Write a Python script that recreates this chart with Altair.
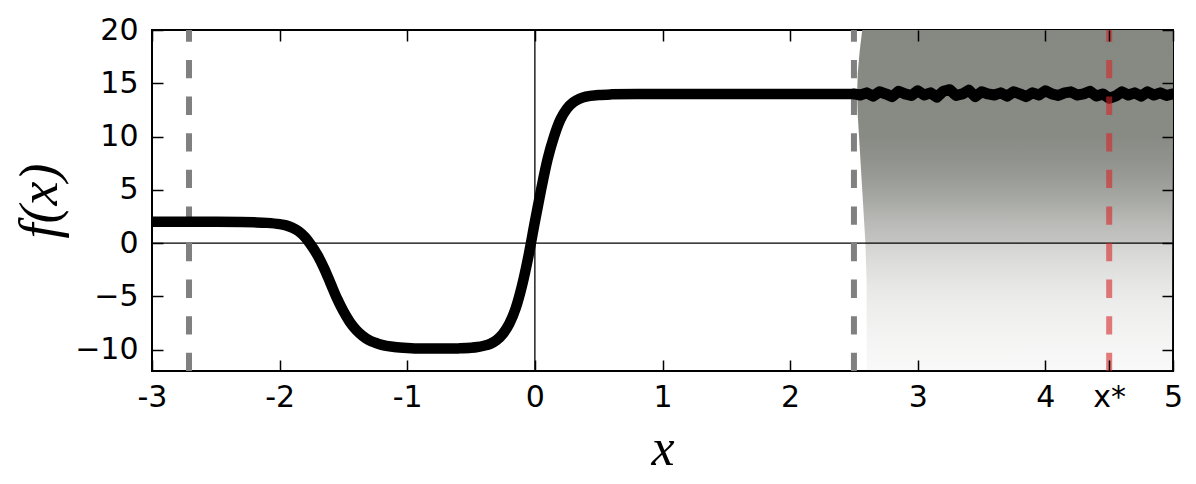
import altair as alt
import pandas as pd

# ---- data ----
curve_x = [-3.0, -2.6, -2.3, -2.2, -2.1, -2.0, -1.95, -1.9, -1.85, -1.8, -1.75, -1.7, -1.65,
           -1.6, -1.55, -1.5, -1.45, -1.4, -1.35, -1.3, -1.25, -1.2, -1.1, -1.0, -0.9, -0.8,
           -0.7, -0.6, -0.5, -0.45, -0.4, -0.35, -0.3, -0.25, -0.2, -0.15, -0.1, -0.05, 0.0,
           0.05, 0.1, 0.15, 0.2, 0.25, 0.3, 0.35, 0.4, 0.5, 0.6, 0.8, 1.0, 2.5]
curve_y = [2.0, 2.0, 1.98, 1.95, 1.9, 1.78, 1.67, 1.45, 1.1, 0.55, -0.25, -1.2, -2.4,
           -3.8, -5.2, -6.4, -7.4, -8.15, -8.7, -9.1, -9.35, -9.55, -9.75, -9.85, -9.9, -9.9,
           -9.9, -9.88, -9.82, -9.75, -9.63, -9.45, -9.1, -8.5, -7.55, -6.1, -3.95, -1.2, 2.0,
           5.1, 7.9, 10.0, 11.6, 12.6, 13.2, 13.55, 13.75, 13.9, 13.96, 14.0, 14.0, 14.0]

noisy_x = [2.50, 2.55, 2.60, 2.65, 2.70, 2.75, 2.80, 2.85, 2.90, 2.95,
           3.00, 3.05, 3.10, 3.15, 3.20, 3.25, 3.30, 3.35, 3.40, 3.45,
           3.50, 3.55, 3.60, 3.65, 3.70, 3.75, 3.80, 3.85, 3.90, 3.95,
           4.00, 4.05, 4.10, 4.15, 4.20, 4.25, 4.30, 4.35, 4.40, 4.45,
           4.50, 4.55, 4.60, 4.65, 4.70, 4.75, 4.80, 4.85, 4.90, 4.95, 5.00]
noisy_y = [14.0, 13.9, 14.1, 13.8, 14.2, 14.0, 13.75, 14.25, 14.0, 13.85,
           14.3, 13.9, 14.1, 13.7, 14.25, 14.4, 13.85, 14.0, 14.35, 13.75,
           14.2, 14.0, 13.9, 14.1, 13.8, 14.2, 14.0, 13.75, 14.1, 13.9,
           14.3, 14.0, 13.85, 14.1, 14.2, 13.9, 14.0, 14.25, 13.8, 14.0,
           13.6, 13.8, 14.2, 13.9, 14.1, 13.8, 14.2, 13.9, 14.1, 13.85, 14.0]

# sample cloud: left edge and density (opacity) by height
cloud_edge_y = [20, 18, 16, 14, 12, 10, 8, 6, 4, 2, 0, -4, -8, -12]
cloud_edge_x = [2.565, 2.545, 2.53, 2.525, 2.53, 2.54, 2.55, 2.56, 2.57, 2.58, 2.59, 2.6, 2.6, 2.6]
cloud_stop_y = [20, 10, 8, 6, 4, 2, 0.05, -0.05, -2, -4, -6, -8, -10, -12]
cloud_stop_alpha = [1.0, 0.98, 0.92, 0.83, 0.72, 0.58, 0.48, 0.36, 0.28, 0.2, 0.15, 0.11, 0.08, 0.05]

gray_lines_x = [-2.71, 2.5]
xstar = 4.5
x_ticks = [-3, -2, -1, 0, 1, 2, 3, 4, xstar, 5]
y_ticks = [-10, -5, 0, 5, 10, 15, 20]

# ---- chart ----
W, H = 1021, 341
XD, YD = [-3, 5], [-12, 20]
xs = alt.Scale(domain=XD, nice=False, zero=False)
ys = alt.Scale(domain=YD, nice=False, zero=False)

tick_common = dict(labels=False, domain=False, grid=False, ticks=True, tickSize=11,
                   tickWidth=1.5, tickColor="black", title=None, zindex=2)

main_x = alt.Axis(values=x_ticks, ticks=False, tickSize=0, domain=False, grid=False,
                  labelExpr=f"datum.value == {xstar} ? 'x*' : toString(datum.value)",
                  labelFont="DejaVu Sans", labelFontSize=30, labelColor="black",
                  labelPadding=11, labelFlush=False, labelOverlap=False,
                  title="x", titleFont="Liberation Serif", titleFontStyle="italic",
                  titleFontWeight="normal", titleFontSize=52, titleColor="black",
                  titleY=93, titleBaseline="alphabetic")
main_y = alt.Axis(values=y_ticks, ticks=False, tickSize=0, domain=False, grid=False,
                  labelExpr="replace(toString(datum.value), '-', '\u2212')",
                  labelFont="DejaVu Sans", labelFontSize=30, labelColor="black",
                  labelPadding=14, labelFlush=False, labelOverlap=False,
                  title="f(x)", titleFont="Liberation Serif", titleFontStyle="italic",
                  titleFontWeight="normal", titleFontSize=54, titleColor="black",
                  titleX=-112, titleAngle=270, titleBaseline="middle")

bottom_ticks = alt.Axis(orient="top", offset=-H, values=x_ticks, **tick_common)
top_ticks = alt.Axis(orient="bottom", offset=-H, values=x_ticks, **tick_common)
left_ticks = alt.Axis(orient="right", offset=-W, values=y_ticks, **tick_common)
right_ticks = alt.Axis(orient="left", offset=-W, values=y_ticks, **tick_common)

base_rgb = (134, 136, 130)
stops = [alt.GradientStop(offset=(YD[1] - y) / (YD[1] - YD[0]),
                          color=f"rgba({base_rgb[0]},{base_rgb[1]},{base_rgb[2]},{a})")
         for y, a in zip(cloud_stop_y, cloud_stop_alpha)]

cloud_df = pd.DataFrame({"y": cloud_edge_y, "xl": cloud_edge_x})
cloud = alt.Chart(cloud_df).mark_area(
    orient="horizontal",
    color=alt.Gradient(gradient="linear", stops=stops, x1=0, x2=0, y1=0, y2=1),
    clip=True,
).encode(
    y=alt.Y("y:Q", scale=ys, axis=main_y),
    x=alt.X("xl:Q", scale=xs, axis=main_x),
    x2=alt.datum(XD[1]),
)

zero_h = alt.Chart(pd.DataFrame({"v": [0]})).mark_rule(color="black", strokeWidth=1.3).encode(
    y=alt.Y("v:Q", scale=ys, axis=None))
zero_v = alt.Chart(pd.DataFrame({"v": [0]})).mark_rule(color="black", strokeWidth=1.3).encode(
    x=alt.X("v:Q", scale=xs, axis=None))

gray_rules = alt.Chart(pd.DataFrame({"x": gray_lines_x})).mark_rule(
    color="#808080", strokeWidth=6, strokeDash=[18.3, 18.3], strokeDashOffset=6.6
).encode(x=alt.X("x:Q", scale=xs, axis=None))

curve_df = pd.DataFrame({"x": curve_x, "y": curve_y})
curve = alt.Chart(curve_df).mark_line(
    color="black", strokeWidth=10.5, interpolate="monotone", clip=True, strokeJoin="round"
).encode(
    x=alt.X("x:Q", scale=xs, axis=bottom_ticks),
    y=alt.Y("y:Q", scale=ys, axis=left_ticks),
)

noisy_df = pd.DataFrame({"x": noisy_x, "y": noisy_y})
noisy = alt.Chart(noisy_df).mark_line(
    color="black", strokeWidth=11, clip=True, strokeJoin="round", strokeCap="round"
).encode(
    x=alt.X("x:Q", scale=xs, axis=top_ticks),
    y=alt.Y("y:Q", scale=ys, axis=right_ticks),
)

red_rule = alt.Chart(pd.DataFrame({"x": [xstar]})).mark_rule(
    color="#d62728", opacity=0.6, strokeWidth=6, strokeDash=[18.3, 18.3], strokeDashOffset=6.6
).encode(x=alt.X("x:Q", scale=xs, axis=None))

chart = alt.layer(cloud, zero_h, zero_v, gray_rules, curve, noisy, red_rule).resolve_scale(
    x="shared", y="shared"
).resolve_axis(
    x="independent", y="independent"
).properties(
    width=W, height=H,
    background="white",
    autosize=alt.AutoSizeParams(type="none"),
    padding={"left": 144, "top": 22, "right": 12, "bottom": 105},
).configure_view(
    stroke="black", strokeWidth=2
)

chart.save("out.html", embed_options={"renderer": "svg", "actions": False})
